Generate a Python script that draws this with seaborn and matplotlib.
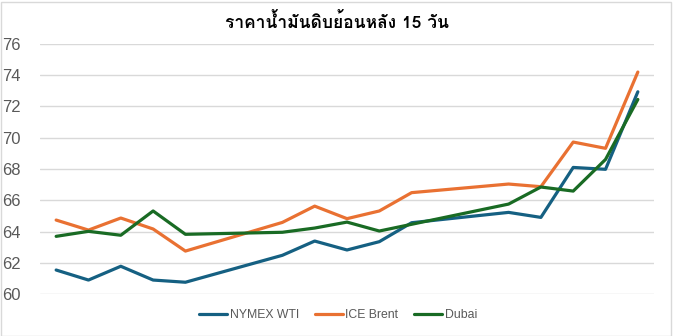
import matplotlib
matplotlib.use("Agg")
import matplotlib.pyplot as plt
from matplotlib.patches import Rectangle
import pandas as pd
import seaborn as sns

# ---- data ----
dates = ["2025-06-02", "2025-06-03", "2025-06-04", "2025-06-05", "2025-06-06",
         "2025-06-09", "2025-06-10", "2025-06-11", "2025-06-12", "2025-06-13",
         "2025-06-16", "2025-06-17", "2025-06-18", "2025-06-19", "2025-06-20"]
wti = [61.55, 60.91, 61.79, 60.91, 60.77, 62.49, 63.40, 62.83, 63.36, 64.57,
       65.23, 64.91, 68.10, 67.98, 72.93]
brent = [64.74, 64.10, 64.87, 64.17, 62.76, 64.59, 65.63, 64.83, 65.32, 66.49,
         67.04, 66.87, 69.72, 69.32, 74.19]
dubai = [63.70, 64.02, 63.77, 65.32, 63.83, 63.96, 64.23, 64.61, 64.04, 64.47,
         65.76, 66.85, 66.59, 68.61, 72.44]
series_names = ["NYMEX WTI", "ICE Brent", "Dubai"]
title = "ราคาน้ำมันดิบย้อนหลัง 15 วัน"
y_ticks = [60, 62, 64, 66, 68, 70, 72, 74, 76]

colors = ["#156082", "#E97132", "#196B24"]

df = pd.DataFrame({"date": pd.to_datetime(dates),
                   series_names[0]: wti,
                   series_names[1]: brent,
                   series_names[2]: dubai})
long = df.melt(id_vars="date", var_name="series", value_name="price")

sns.set_theme(style="white")
plt.rcParams["font.family"] = ["Liberation Sans", "DejaVu Sans"]

fig = plt.figure(figsize=(6.74, 3.36), dpi=100)
ax = fig.add_axes([40 / 674, 1 - 294.3 / 336, 614 / 674, (294.3 - 43.7) / 336])

sns.lineplot(data=long, x="date", y="price", hue="series",
             hue_order=series_names, palette=colors, linewidth=2.3,
             estimator=None, sort=False, ax=ax, legend=True)

d0 = pd.to_datetime(dates[0]) - pd.Timedelta(hours=12)
d1 = pd.to_datetime(dates[-1]) + pd.Timedelta(hours=12)
ax.set_xlim(d0, d1)
ax.set_ylim(y_ticks[0], y_ticks[-1])
ax.set_yticks(y_ticks)
ax.set_xticks([])
ax.set_xlabel("")
ax.set_ylabel("")
ax.grid(axis="y", color="#D9D9D9", linewidth=1.0)
ax.set_axisbelow(True)
for s in ax.spines.values():
    s.set_visible(False)
ax.tick_params(axis="y", length=0, pad=14, labelsize=12, labelcolor="#595959")

handles, labels = ax.get_legend_handles_labels()
ax.legend(handles, labels, loc="center", bbox_to_anchor=(338 / 674, 1 - 315 / 336),
          bbox_transform=fig.transFigure, ncol=3, frameon=False,
          fontsize=8.8, handlelength=2.3, handletextpad=0.2, columnspacing=1.3,
          labelcolor="#595959")

fig.text(337 / 674, 1 - 22 / 336, title, ha="center", va="center",
         fontsize=12.5, fontweight="bold", color="#000000",
         family=["Loma", "Noto Sans Thai", "DejaVu Sans"])

fig.patches.append(Rectangle((0.5 / 674, 0.5 / 336), 1 - 3.5 / 674, 1 - 2.5 / 336,
                             transform=fig.transFigure, fill=False,
                             edgecolor="#D9D9D9", linewidth=1.0))

fig.savefig("out.png", dpi=100)
